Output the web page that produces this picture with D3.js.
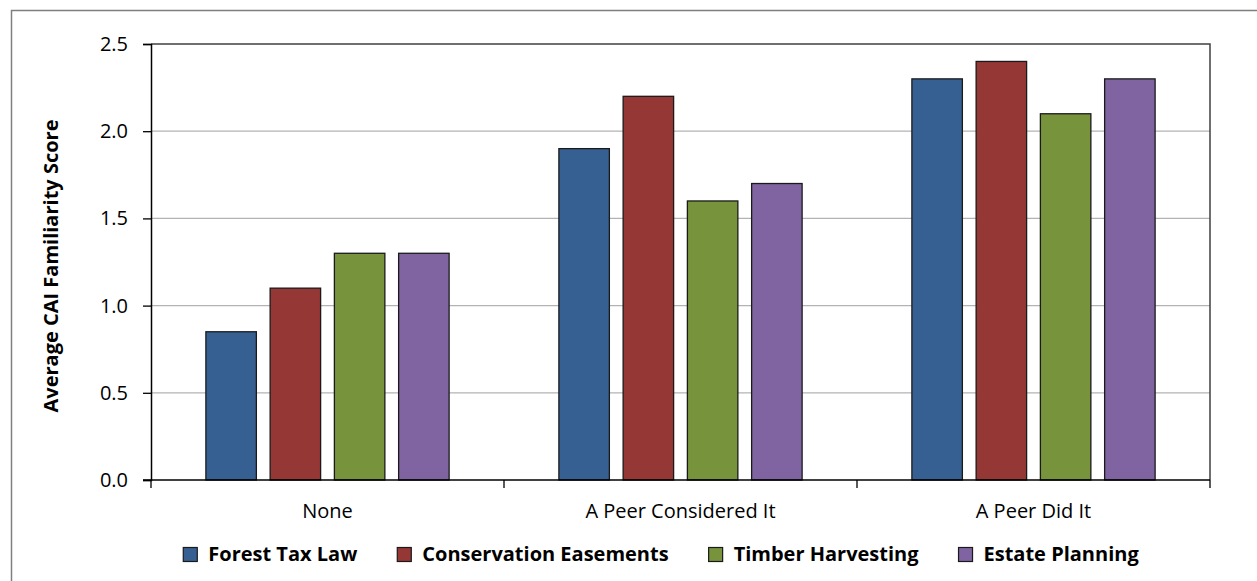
<!DOCTYPE html>
<html>
<head>
<meta charset="utf-8">
<script src="https://cdn.jsdelivr.net/npm/d3@7"></script>
<style>
  html, body { margin: 0; padding: 0; background: #fff; }
  svg { display: block; }
  text { font-family: "Open Sans", "DejaVu Sans", sans-serif; }
</style>
</head>
<body>
<svg id="chart" width="1257" height="581"></svg>
<script>
// Survey groups along the x axis
const categories = ["None", "A Peer Considered It", "A Peer Did It"];
// Topics, one bar per topic inside each group
const seriesNames = ["Forest Tax Law", "Conservation Easements", "Timber Harvesting", "Estate Planning"];
const seriesColors = ["#376092", "#953735", "#77933C", "#8064A2"];
// Average familiarity score per topic, in category order
const forestTaxLaw = [0.85, 1.9, 2.3];
const conservationEasements = [1.1, 2.2, 2.4];
const timberHarvesting = [1.3, 1.6, 2.1];
const estatePlanning = [1.3, 1.7, 2.3];
const yTicks = [0, 0.5, 1.0, 1.5, 2.0, 2.5];
const yTitle = "Average CAI Familiarity Score";

const seriesValues = [forestTaxLaw, conservationEasements, timberHarvesting, estatePlanning];

const svg = d3.select("#chart");
const plot = { left: 151, right: 1210, top: 44, bottom: 480 };

// Outer chart frame (runs past the right and bottom edges)
svg.append("rect")
  .attr("x", 11.5).attr("y", 10.5)
  .attr("width", 1300).attr("height", 700)
  .attr("fill", "none").attr("stroke", "#7f7f7f").attr("stroke-width", 1.5);

const x = d3.scaleBand().domain(categories).range([plot.left, plot.right]).padding(0);
const y = d3.scaleLinear().domain([0, 2.5]).range([plot.bottom, plot.top]);

// Horizontal gridlines
svg.append("g").selectAll("line")
  .data(yTicks.filter(t => t > 0 && t < 2.5))
  .join("line")
  .attr("x1", plot.left).attr("x2", plot.right)
  .attr("y1", d => y(d)).attr("y2", d => y(d))
  .attr("stroke", "#b3b3b3").attr("stroke-width", 1.2);

// Plot area frame: top and right edges
svg.append("path")
  .attr("d", `M${plot.left},${plot.top}H${plot.right}V${plot.bottom}`)
  .attr("fill", "none").attr("stroke", "#404040").attr("stroke-width", 1.5);

// Bars
const bw = x.bandwidth();
const barW = bw * 0.143;
const barStep = bw * 0.182;
const groupW = barStep * 3 + barW;

const groups = svg.append("g").selectAll("g")
  .data(categories)
  .join("g")
  .attr("transform", d => `translate(${x(d) + (bw - groupW) / 2},0)`);

groups.selectAll("rect")
  .data((c, ci) => seriesValues.map((vals, si) => ({ si, v: vals[ci] })))
  .join("rect")
  .attr("x", d => d.si * barStep)
  .attr("y", d => y(d.v))
  .attr("width", barW)
  .attr("height", d => y(0) - y(d.v))
  .attr("fill", d => seriesColors[d.si])
  .attr("stroke", "#1a1a1a").attr("stroke-width", 1.3);

// Y axis
const yAxis = svg.append("g")
  .attr("transform", `translate(${plot.left},0)`)
  .call(d3.axisLeft(y).tickValues(yTicks).tickFormat(d3.format(".1f")).tickSize(8).tickPadding(15));
yAxis.select(".domain").attr("stroke", "#000").attr("stroke-width", 1.5);
yAxis.selectAll(".tick line").attr("stroke", "#000").attr("stroke-width", 1.3);
yAxis.selectAll("text").attr("font-size", 20).attr("fill", "#000");

// X axis with ticks at group boundaries
const xAxisG = svg.append("g");
xAxisG.append("line")
  .attr("x1", plot.left - 8).attr("x2", plot.right)
  .attr("y1", plot.bottom).attr("y2", plot.bottom)
  .attr("stroke", "#000").attr("stroke-width", 1.5);
const boundaries = categories.map(c => x(c)).concat([x(categories[categories.length - 1]) + bw]);
xAxisG.selectAll("line.tk")
  .data(boundaries)
  .join("line").attr("class", "tk")
  .attr("x1", d => d).attr("x2", d => d)
  .attr("y1", plot.bottom).attr("y2", plot.bottom + 8)
  .attr("stroke", "#000").attr("stroke-width", 1.3);
xAxisG.selectAll("text")
  .data(categories)
  .join("text")
  .attr("x", d => x(d) + bw / 2)
  .attr("y", 518)
  .attr("text-anchor", "middle")
  .attr("font-size", 20)
  .attr("fill", "#000")
  .text(d => d);

// Y axis title
svg.append("text")
  .attr("transform", `translate(58,${(plot.top + plot.bottom) / 2 + 4}) rotate(-90)`)
  .attr("text-anchor", "middle")
  .attr("font-size", 20)
  .attr("font-weight", "bold")
  .attr("fill", "#000")
  .text(yTitle);

// Legend
const legend = svg.append("g");
const items = legend.selectAll("g")
  .data(seriesNames)
  .join("g");
items.append("rect")
  .attr("width", 14).attr("height", 14)
  .attr("y", 547.5)
  .attr("fill", (d, i) => seriesColors[i])
  .attr("stroke", "#1a1a1a").attr("stroke-width", 1.2);
items.append("text")
  .attr("x", 25).attr("y", 561)
  .attr("font-size", 20)
  .attr("font-weight", "bold")
  .attr("fill", "#000")
  .text(d => d);
let cursor = 0;
const offsets = [];
items.each(function () {
  const w = d3.select(this).select("text").node().getComputedTextLength();
  offsets.push(cursor);
  cursor += 25 + w + 40;
});
const totalW = cursor - 40;
const legendStart = 661 - totalW / 2;
items.attr("transform", (d, i) => `translate(${legendStart + offsets[i]},0)`);
</script>
</body>
</html>
